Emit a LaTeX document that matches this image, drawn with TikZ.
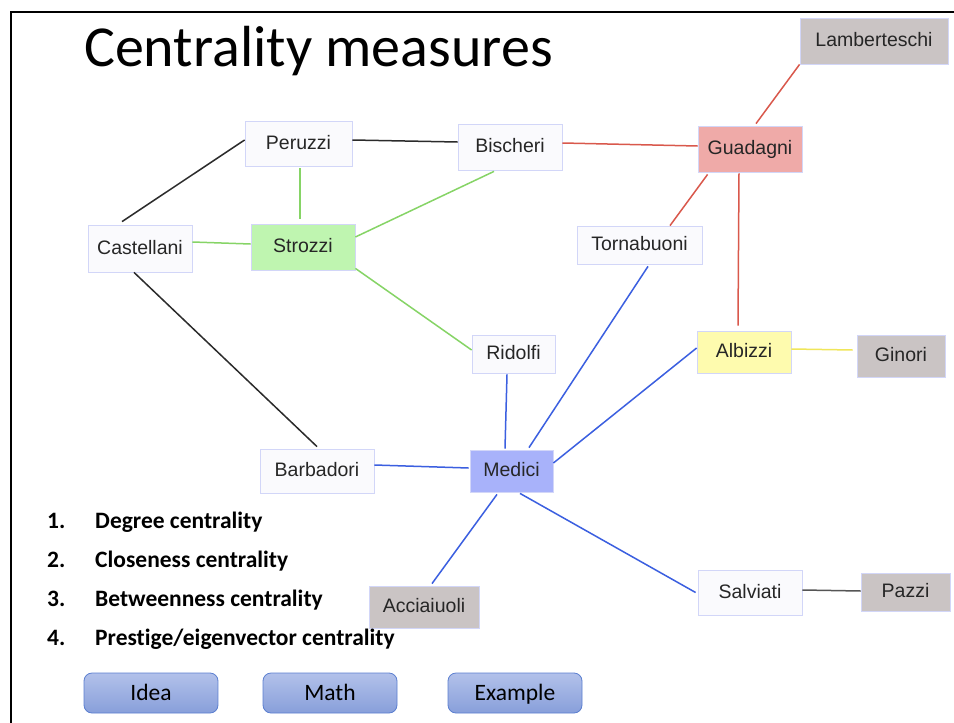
\documentclass[tikz,border=0pt]{standalone}
\usepackage{fontspec}
\setmainfont{Carlito}[Ligatures={NoCommon,NoContextual}]
\newfontfamily\netfont{Liberation Sans}
\definecolor{nodeedge}{HTML}{D2D6F8}
\definecolor{plainfill}{HTML}{FAFAFD}
\definecolor{grayfill}{HTML}{CAC4C4}
\definecolor{redfill}{HTML}{EFAAA8}
\definecolor{greenfill}{HTML}{BFF5B0}
\definecolor{yellowfill}{HTML}{FEFBAE}
\definecolor{bluefill}{HTML}{A8B2FA}
\definecolor{tiegreen}{HTML}{86D466}
\definecolor{tiered}{HTML}{D9584C}
\definecolor{tieblue}{HTML}{3B5FE0}
\definecolor{tieyellow}{HTML}{F0E65A}
\definecolor{tieblack}{HTML}{2B2B2B}
\definecolor{tiegray}{HTML}{555555}
\definecolor{btntop}{HTML}{B2C1EA}
\definecolor{btnbot}{HTML}{889FDA}
\definecolor{btnedge}{HTML}{5B7FD0}
\tikzset{
  family/.style={draw=nodeedge, line width=0.8pt, fill=plainfill, inner sep=0pt,
    text height=14pt, text depth=3pt,
    font=\netfont\fontsize{19.5}{23}\selectfont, text=black!85},
  tie/.style={line width=1.5pt},
  btn/.style={draw=btnedge, line width=0.8pt, rounded corners=8pt,
    top color=btntop, bottom color=btnbot, minimum width=134pt, minimum height=40pt,
    text height=16pt, text depth=1pt,
    inner sep=0pt, font=\fontsize{23.5}{28}\selectfont},
  item/.style={anchor=base west, inner sep=0pt, font=\bfseries\fontsize{23.5}{28}\selectfont},
}
\begin{document}
\begin{tikzpicture}[x=1pt, y=-1pt]
\useasboundingbox (0,0) rectangle (954,723);
\fill[white] (0,0) rectangle (954,723);
% slide frame (top and left edges)
\draw[line width=2pt] (11,723) -- (11,12) -- (954,12);

% title
\node[anchor=base west, inner sep=0pt, font=\fontsize{58}{69}\selectfont] (title) at (84,66) {Centrality measures};

% families
\node[family, fill=grayfill, minimum width=148pt, minimum height=46pt] (lamb) at (874,41) {Lamberteschi};
\node[family, fill=redfill, minimum width=104pt, minimum height=46pt] (guad) at (750,149) {Guadagni};
\node[family, minimum width=107pt, minimum height=45pt] (peru) at (298.5,143.5) {Peruzzi};
\node[family, minimum width=104pt, minimum height=46pt] (bisc) at (510,147) {Bischeri};
\node[family, minimum width=104pt, minimum height=47pt] (cast) at (140,248.5) {Castellani};
\node[family, fill=greenfill, minimum width=104pt, minimum height=46pt] (stro) at (303,247) {Strozzi};
\node[family, minimum width=125pt, minimum height=38pt] (torn) at (639.5,245) {Tornabuoni};
\node[family, minimum width=83pt, minimum height=38pt] (rido) at (513.5,354) {Ridolfi};
\node[family, fill=yellowfill, minimum width=94pt, minimum height=42pt] (albi) at (744,352) {Albizzi};
\node[family, fill=grayfill, minimum width=88pt, minimum height=42pt] (gino) at (901,356) {Ginori};
\node[family, minimum width=114pt, minimum height=44pt] (barb) at (317,471) {Barbadori};
\node[family, fill=bluefill, minimum width=83pt, minimum height=42pt] (medi) at (511.5,471) {Medici};
\node[family, fill=grayfill, minimum width=110pt, minimum height=42pt] (acci) at (424,607) {Acciaiuoli};
\node[family, minimum width=104pt, minimum height=45pt] (salv) at (750,592.5) {Salviati};
\node[family, fill=grayfill, minimum width=89pt, minimum height=38pt] (pazz) at (905.5,592) {Pazzi};

% ties
\draw[tie, tiered] (lamb.south west) -- ([xshift=6pt,yshift=2pt]guad.north);
\draw[tie, tieblack] ([yshift=3.5pt]peru.east) -- ([yshift=5pt]bisc.west);
\draw[tie, tiered] ([yshift=4pt]bisc.east) -- ([yshift=3pt]guad.west);
\draw[tie, tieblack] ([xshift=-18pt,yshift=3pt]cast.north) -- ([yshift=3.5pt]peru.west);
\draw[tie, tiegreen] ([xshift=1.5pt,yshift=-2pt]peru.south) -- ([xshift=-3pt,yshift=5pt]stro.north);
\draw[tie, tiegreen] ([yshift=10pt]stro.east) -- ([xshift=-16pt,yshift=-1pt]bisc.south);
\draw[tie, tiegreen] ([yshift=6.5pt]cast.east) -- ([yshift=3pt]stro.west);
\draw[tie, tiered] ([xshift=10pt,yshift=-2pt]guad.south west) -- ([xshift=30.5pt]torn.north);
\draw[tie, tiered] ([xshift=-11pt,yshift=-1pt]guad.south) -- ([xshift=-6pt,yshift=5pt]albi.north);
\draw[tie, tiegreen] ([yshift=2pt]stro.south east) -- ([yshift=4pt]rido.west);
\draw[tie, tieblack] ([xshift=-6pt]cast.south) -- ([yshift=2pt]barb.north);
\draw[tie, tieblue] ([xshift=-6.5pt,yshift=-1pt]rido.south) -- ([xshift=-6.5pt,yshift=1pt]medi.north);
\draw[tie, tieblue] ([xshift=8.5pt,yshift=-2pt]torn.south) -- ([xshift=17.5pt,yshift=2pt]medi.north);
\draw[tie, tieblue] ([yshift=4pt]albi.west) -- ([yshift=8pt]medi.east);
\draw[tie, tieyellow] ([yshift=3pt]albi.east) -- ([xshift=-4pt,yshift=6pt]gino.west);
\draw[tie, tieblue] ([yshift=6pt]barb.east) -- ([xshift=-1pt,yshift=3pt]medi.west);
\draw[tie, tieblue] ([xshift=-14.5pt,yshift=-2pt]medi.south) -- ([xshift=8pt,yshift=2pt]acci.north);
\draw[tie, tieblue] ([xshift=8.5pt,yshift=-1pt]medi.south) -- ([xshift=-2pt]salv.west);
\draw[tie, tiegray] ([yshift=2.5pt]salv.east) -- ([yshift=1pt]pazz.west);

% list of measures
\node[item] (n1) at (47,528) {1.};
\node[item] (m1) at (95,528) {Degree centrality};
\node[item] (n2) at (47,567) {2.};
\node[item] (m2) at (95,567) {Closeness centrality};
\node[item] (n3) at (47,606) {3.};
\node[item] (m3) at (95,606) {Betweenness centrality};
\node[item] (n4) at (47,645) {4.};
\node[item] (m4) at (95,645) {Prestige/eigenvector centrality};

% buttons
\node[btn] (idea) at (151,693) {Idea};
\node[btn] (math) at (330,693) {Math};
\node[btn] (example) at (515,693) {Example};
\end{tikzpicture}
\end{document}
